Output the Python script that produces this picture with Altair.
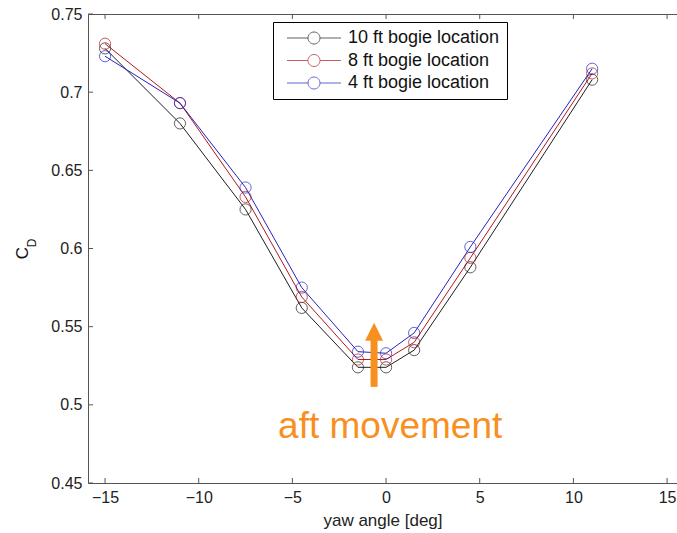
import altair as alt
import pandas as pd

# ---- data ----
yaw = [-15, -11, -7.5, -4.5, -1.5, 0, 1.5, 4.5, 11]
cd_10ft = [0.728, 0.680, 0.625, 0.562, 0.524, 0.524, 0.535, 0.588, 0.708]
cd_8ft = [0.731, 0.693, 0.633, 0.569, 0.529, 0.529, 0.540, 0.594, 0.712]
cd_4ft = [0.723, 0.693, 0.639, 0.575, 0.534, 0.533, 0.546, 0.601, 0.715]
series_names = ["10 ft bogie location", "8 ft bogie location", "4 ft bogie location"]
series_colors = ["#1e1e1e", "#b3191c", "#2323c0"]

x_ticks = [-15, -10, -5, 0, 5, 10, 15]
y_ticks = [0.45, 0.5, 0.55, 0.6, 0.65, 0.7, 0.75]

arrow_x = [-0.64]
arrow_y0 = [0.5115]
arrow_y1 = [0.5440]
arrow_head_y = [0.5467]
note_x = [0.22]
note_y = [0.4787]
note_text = ["aft movement"]

rows = []
for name, vals in zip(series_names, [cd_10ft, cd_8ft, cd_4ft]):
    for i, (a, c) in enumerate(zip(yaw, vals)):
        rows.append({"yaw": a, "cd": c, "series": name, "order": series_names.index(name)})
df = pd.DataFrame(rows)

W, H = 589, 469
FONT = "Liberation Sans"
AXC = "#555555"
xscale = alt.Scale(domain=[-15.91, 15.53], nice=False, zero=False)
yscale = alt.Scale(domain=[0.45, 0.75], nice=False, zero=False)

leg_path = "M-4.5,0H-1 M1,0H4.5 M1,0A1,1 0 1,1 -1,0A1,1 0 1,1 1,0"
legend = alt.Legend(
    title=None, orient="none", legendX=185, legendY=8,
    symbolType=leg_path, symbolSize=144, symbolStrokeWidth=1,
    symbolFillColor="white", symbolOffset=25, labelOffset=25,
    labelFont=FONT, labelFontSize=18, labelColor="#111111",
    padding=7, rowPadding=4.5, strokeColor="#000000", fillColor="white",
)
color = alt.Color("series:N", scale=alt.Scale(domain=series_names, range=series_colors),
                  sort=series_names, legend=legend)

# lines + labelled axes (left / bottom)
lines = alt.Chart(df).mark_line(strokeWidth=1).encode(
    x=alt.X("yaw:Q", scale=xscale, axis=alt.Axis(
        orient="bottom", values=x_ticks, ticks=False, tickSize=0, domain=True,
        domainColor=AXC, grid=False, labelFont=FONT, labelFontSize=16,
        labelColor="#222222", labelPadding=6, title="yaw angle [deg]",
        titleFont=FONT, titleFontSize=17, titleFontWeight="normal",
        titleColor="#222222", titlePadding=7)),
    y=alt.Y("cd:Q", scale=yscale, axis=alt.Axis(
        orient="left", values=y_ticks, ticks=False, tickSize=0, domain=True,
        domainColor=AXC, grid=False, labelFont=FONT, labelFontSize=16,
        labelColor="#222222", labelPadding=6, title=None, format=".2~f")),
    color=color,
    order="order:Q",
)

points = alt.Chart(df).mark_point(shape="circle", filled=False, size=125, strokeWidth=1).encode(
    x=alt.X("yaw:Q", scale=xscale, axis=None),
    y=alt.Y("cd:Q", scale=yscale, axis=None),
    color=color,
)

# top border of the box (domain line only)
topframe = alt.Chart(df).mark_point(opacity=0).encode(
    x=alt.X("yaw:Q", scale=xscale, axis=alt.Axis(
        orient="top", values=x_ticks, labels=False, ticks=False, tickSize=0,
        domain=True, domainColor=AXC, grid=False, title=None)),
    y=alt.Y("cd:Q", scale=yscale, axis=None),
)

# inward tick marks (MATLAB style)
xt = pd.DataFrame({"v": x_ticks})
yt = pd.DataFrame({"v": y_ticks})
xtick_bottom = alt.Chart(xt).mark_rule(color=AXC, strokeWidth=1).encode(
    x=alt.X("v:Q", scale=xscale, axis=None), y=alt.value(H), y2=alt.value(H - 5))
xtick_top = alt.Chart(xt).mark_rule(color=AXC, strokeWidth=1).encode(
    x=alt.X("v:Q", scale=xscale, axis=None), y=alt.value(0), y2=alt.value(5))
ytick_left = alt.Chart(yt).mark_rule(color=AXC, strokeWidth=1).encode(
    y=alt.Y("v:Q", scale=yscale, axis=None), x=alt.value(0), x2=alt.value(5))

ann = pd.DataFrame({"x": arrow_x, "y0": arrow_y0, "y1": arrow_y1, "yh": arrow_head_y})
shaft = alt.Chart(ann).mark_rule(color="#F7901E", strokeWidth=7).encode(
    x=alt.X("x:Q", scale=xscale, axis=None),
    y=alt.Y("y0:Q", scale=yscale, axis=None),
    y2="y1:Q",
)
head = alt.Chart(ann).mark_point(shape="M0,-1L1,1L-1,1Z", size=324, filled=True,
                                 color="#F7901E", opacity=1).encode(
    x=alt.X("x:Q", scale=xscale, axis=None),
    y=alt.Y("yh:Q", scale=yscale, axis=None),
)
note = alt.Chart(pd.DataFrame({"x": note_x, "y": note_y, "t": note_text})).mark_text(
    font=FONT, fontSize=37, color="#F7901E", align="center", baseline="alphabetic"
).encode(
    x=alt.X("x:Q", scale=xscale, axis=None),
    y=alt.Y("y:Q", scale=yscale, axis=None),
    text="t:N",
)

ylab_c = alt.Chart(pd.DataFrame({"t": ["C"]})).mark_text(
    font=FONT, fontSize=17, color="#111111", angle=270, align="center", baseline="middle"
).encode(x=alt.value(-65), y=alt.value(239), text="t:N")
ylab_d = alt.Chart(pd.DataFrame({"t": ["D"]})).mark_text(
    font=FONT, fontSize=12, color="#111111", angle=270, align="center", baseline="middle"
).encode(x=alt.value(-56), y=alt.value(229), text="t:N")

chart = alt.layer(
    xtick_bottom, xtick_top, ytick_left, lines, points, topframe,
    shaft, head, note, ylab_c, ylab_d
).resolve_axis(
    x="independent", y="independent"
).properties(
    width=W, height=H,
    background="white",
    autosize=alt.AutoSizeParams(type="none"),
    padding={"left": 88, "top": 14, "right": 0, "bottom": 50},
).configure_view(strokeWidth=0, stroke="transparent")

chart.save("out.html", embed_options={"renderer": "svg", "actions": False})
